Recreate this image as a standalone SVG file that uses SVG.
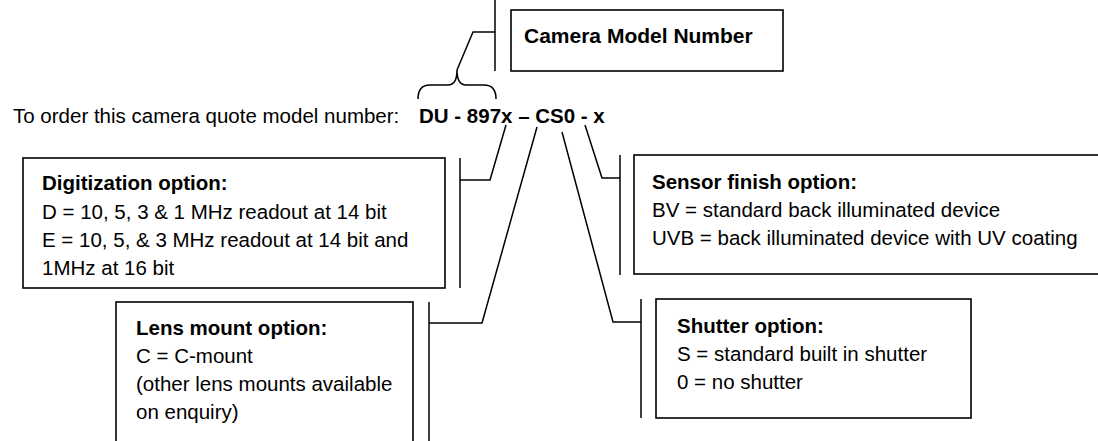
<svg xmlns="http://www.w3.org/2000/svg" width="1098" height="441" viewBox="0 0 1098 441">
<style>
text{font-family:"Liberation Sans",Arial,sans-serif;font-size:20.5px;fill:#000}
.b{font-weight:bold}
.box{fill:#fff;stroke:#000;stroke-width:1.6}
.ln{fill:none;stroke:#000;stroke-width:1.5}
</style>
<rect width="1098" height="441" fill="#fff"/>
<g id="connectors">
<path class="ln" d="M495,0 V71 M495,32 H473 L457,70"/>
<path class="ln" d="M418,99 Q418,85 430,85 H448 Q457,85 457,70 Q457,85 466,85 H484 Q496,85 496,99"/>
<path class="ln" d="M506,125 L490,180 H460 M460,158 V288"/>
<path class="ln" d="M537,127 L482,323 H429 M429,302 V441"/>
<path class="ln" d="M562,132 L613,322 H641 M641,299 V418"/>
<path class="ln" d="M585,125 L602,178 H620 M620,155 V275"/>
</g>
<g id="header">
<text x="13" y="123">To order this camera quote model number:</text>
<text class="b" x="419" y="123">DU - 897x – CS0 - x</text>
</g>
<g id="camera-model">
<rect class="box" x="511" y="10" width="272" height="61"/>
<text class="b" x="524" y="43" style="font-size:21px">Camera Model Number</text>
</g>
<g id="digitization">
<rect class="box" x="23" y="158" width="422" height="130"/>
<text class="b" x="42" y="190">Digitization option:</text>
<text x="42" y="219">D = 10, 5, 3 &amp; 1 MHz readout at 14 bit</text>
<text x="42" y="247">E = 10, 5, &amp; 3 MHz readout at 14 bit and</text>
<text x="42" y="275">1MHz at 16 bit</text>
</g>
<g id="lens-mount">
<rect class="box" x="116" y="302" width="297" height="150"/>
<text class="b" x="136" y="335">Lens mount option:</text>
<text x="136" y="363">C = C-mount</text>
<text x="136" y="391">(other lens mounts available</text>
<text x="136" y="419">on enquiry)</text>
</g>
<g id="sensor-finish">
<rect class="box" x="634" y="155" width="470" height="119"/>
<text class="b" x="652" y="189">Sensor finish option:</text>
<text x="652" y="217">BV = standard back illuminated device</text>
<text x="652" y="245">UVB = back illuminated device with UV coating</text>
</g>
<g id="shutter">
<rect class="box" x="656" y="299" width="315" height="119"/>
<text class="b" x="677" y="333">Shutter option:</text>
<text x="677" y="361">S = standard built in shutter</text>
<text x="677" y="389">0 = no shutter</text>
</g>
</svg>
